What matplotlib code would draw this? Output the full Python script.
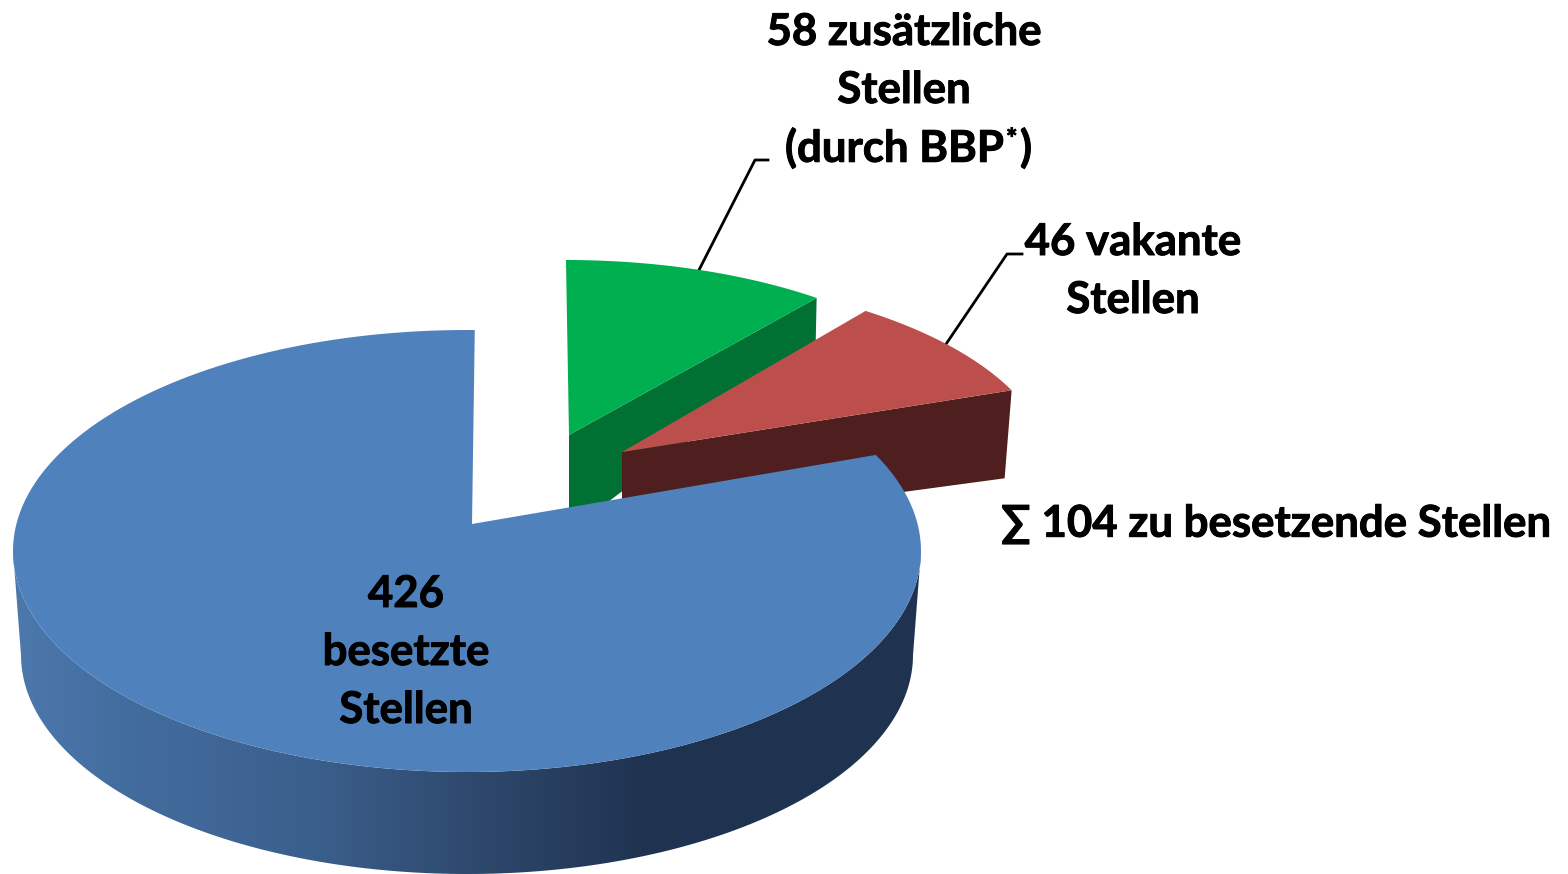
import numpy as np
import matplotlib
matplotlib.use('Agg')
from matplotlib import pyplot as plt
from matplotlib import patheffects
from matplotlib.colors import LinearSegmentedColormap
from matplotlib.patches import Polygon

# data
values = [426, 58, 46]
occupied_lines = ['426', 'besetzte', 'Stellen']
extra_lines = ['58 zusätzliche', 'Stellen']
extra_last = '(durch BBP'
vacant_lines = ['46 vakante', 'Stellen']
sum_label = '∑ 104 zu besetzende Stellen'

blue, blue_dark = '#4F81BD', '#1F3350'
green, green_dark = '#00B050', '#007033'
red, red_dark = '#BC4F4C', '#4E1F1E'

plt.rcParams['font.family'] = ['Lato', 'DejaVu Sans']
plt.rcParams['font.weight'] = 'bold'
fsize = 31.5
fat = [patheffects.withStroke(linewidth=0.7, foreground='k')]

fig = plt.figure(figsize=(15.68, 8.74), dpi=100)
ax = fig.add_axes([0, 0, 1, 1])
ax.set_xlim(0, 1568)
ax.set_ylim(874, 0)
ax.axis('off')


def rim_point(angle, apex, center, rx, ry):
    # where the ray from the apex meets the tilted ellipse
    a = np.radians(angle)
    px, py = (apex[0] - center[0]) / rx, (center[1] - apex[1]) / ry
    dx, dy = np.cos(a), np.sin(a)
    b = px * dx + py * dy
    s = -b + np.sqrt(b ** 2 - (px ** 2 + py ** 2 - 1))
    return center[0] + rx * (px + s * dx), center[1] - ry * (py + s * dy)


def param(point, center, rx, ry):
    return np.arctan2((center[1] - point[1]) / ry, (point[0] - center[0]) / rx)


def arc(t0, t1, center, rx, ry):
    t = np.linspace(t0, t1, 200)
    return np.column_stack([center[0] + rx * np.cos(t), center[1] - ry * np.sin(t)])


def wedge_top(a0, a1, apex, center, rx, ry):
    # a0 -> a1 going clockwise on screen
    p0, p1 = rim_point(a0, apex, center, rx, ry), rim_point(a1, apex, center, rx, ry)
    t0, t1 = param(p0, center, rx, ry), param(p1, center, rx, ry)
    while t1 > t0:
        t1 -= 2 * np.pi
    return np.vstack([[apex], arc(t0, t1, center, rx, ry)])


sweep = 360 * np.array(values) / sum(values)
a_blue_end = 90 + sweep[0] - 360      # right end of blue
a_green_end = 90 - sweep[1]           # also start of red
red_lean = 1.5                        # perspective shifts the exploded slice a little

# green slice, left edge leans a little because of the perspective
g_apex, g_center, g_rx, g_ry = (569, 435), (566, 450), 418, 190
g_top = wedge_top(90.45, a_green_end, g_apex, g_center, g_rx, g_ry)
g_right = g_top[-1]
ax.add_patch(Polygon([g_apex, g_right, (g_right[0] - 1, g_right[1] + 47), (608, 502), (569, 510)],
                     fc=green_dark, ec='none', zorder=1))
ax.add_patch(Polygon(g_top, fc=green, ec='none', zorder=2))

# red slice
r_apex, r_center, r_rx, r_ry = (622, 452), (614, 472), 437, 197
r_top = wedge_top(a_green_end + red_lean, a_blue_end, r_apex, r_center, r_rx, r_ry)
r_right = r_top[-1]
ax.add_patch(Polygon([r_apex, r_right, (r_right[0] - 7, r_right[1] + 88), (622, 530)],
                     fc=red_dark, ec='none', zorder=3))
ax.add_patch(Polygon(r_top, fc=red, ec='none', zorder=4))

# blue slice, side first
b_apex, b_center, b_rx, b_ry = (472, 524), (467, 551), 454, 221
f_center, f_rx, f_ry = (467, 655), 446, 219
side = np.vstack([arc(np.pi, 2 * np.pi, b_center, b_rx, b_ry),
                  arc(2 * np.pi, np.pi, f_center, f_rx, f_ry)])
side_patch = Polygon(side, fc='none', ec='none', zorder=5)
ax.add_patch(side_patch)
side_cmap = LinearSegmentedColormap.from_list('side', [
    (0.0, '#4C78AC'), (0.12, '#436D9F'), (0.33, '#3B5F8C'),
    (0.52, '#2D476B'), (0.70, blue_dark), (1.0, blue_dark)])
im = ax.imshow(np.linspace(0, 1, 512)[None, :], cmap=side_cmap, aspect='auto',
               extent=(13, 921, 874, 540), zorder=5)
im.set_clip_path(side_patch)
ax.set_xlim(0, 1568)
ax.set_ylim(874, 0)

b_top = wedge_top(a_blue_end, 89.6, b_apex, b_center, b_rx, b_ry)
ax.add_patch(Polygon(b_top, fc=blue, ec='none', zorder=6))

# leader lines
gx, gy = rim_point(90 - sweep[1] / 2, g_apex, g_center, g_rx, g_ry)
rx_, ry_ = rim_point(a_green_end + red_lean - sweep[2] / 2, r_apex, r_center, r_rx, r_ry)
ax.plot([gx, 755, 768], [gy, 160, 160], color='k', lw=2, zorder=1, solid_joinstyle='round')
ax.plot([rx_, 1007, 1022], [ry_, 254, 254], color='k', lw=2, zorder=1, solid_joinstyle='round')

# labels
labels = []
for i, line in enumerate(occupied_lines):
    labels.append(ax.text(406, 594 + 58 * i, line, fontsize=fsize, ha='center', va='center', zorder=7))
for i, line in enumerate(extra_lines):
    labels.append(ax.text(904, 32 + 58 * i, line, fontsize=fsize, ha='center', va='center', zorder=7))
labels.append(ax.text(785, 148, extra_last, fontsize=fsize, ha='left', va='center', zorder=7))
labels.append(ax.text(1006, 140, '*', fontsize=fsize * 0.62, ha='left', va='center', zorder=7))
labels.append(ax.text(1020, 148, ')', fontsize=fsize, ha='left', va='center', zorder=7))
for i, line in enumerate(vacant_lines):
    labels.append(ax.text(1133, 242 + 58 * i, line, fontsize=fsize, ha='center', va='center', zorder=7))
labels.append(ax.text(1001, 524, sum_label, fontsize=fsize, ha='left', va='center', zorder=7))
for t in labels:
    t.set_path_effects(fat)

fig.savefig('out.png', dpi=100)
